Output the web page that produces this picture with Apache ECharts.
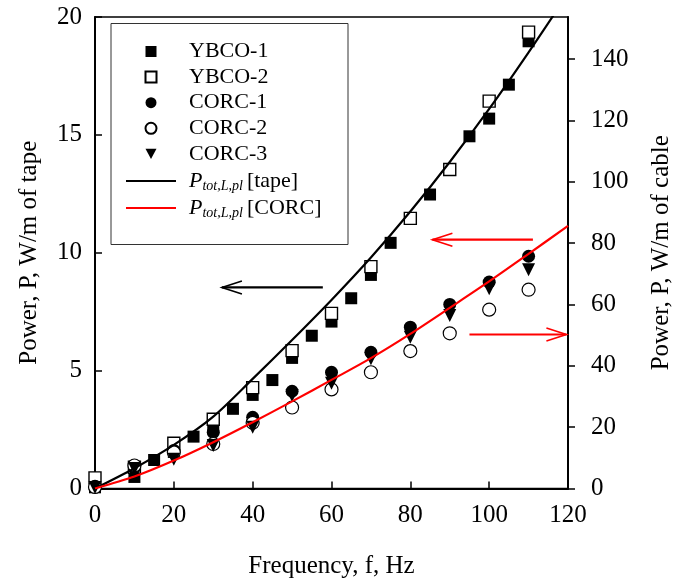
<!DOCTYPE html>
<html>
<head>
<meta charset="utf-8">
<script src="https://cdn.jsdelivr.net/npm/echarts@6/dist/echarts.min.js"></script>
<style>
	html, body { margin: 0; padding: 0; background: #fff; }
	#chart { width: 682px; height: 579px; }
</style>
</head>
<body>
<div id="chart"></div>
<script>
// 数据
var freqYbco1 = [0, 10, 15, 20, 25, 30, 35, 40, 45, 50, 55, 60, 65, 70, 75, 85, 95, 100, 105, 110];
var ybco1 = [0.05, 0.49, 1.21, 1.55, 2.2, 2.56, 3.38, 3.97, 4.6, 5.54, 6.48, 7.08, 8.07, 9.06, 10.42, 12.47, 14.94, 15.69, 17.13, 18.97];
var freq = [0, 10, 20, 30, 40, 50, 60, 70, 80, 90, 100, 110];
var ybco2 = [0.45, 0.9, 1.92, 2.94, 4.28, 5.85, 7.43, 9.41, 11.46, 13.53, 16.43, 19.36];
var corc1 = [0.4, 6.7, 12.4, 18.3, 23.2, 31.7, 37.9, 44.4, 52.6, 60.0, 67.3, 75.7];
var corc2 = [0.5, 7.5, 11.8, 14.5, 21.4, 26.4, 32.3, 37.9, 44.8, 50.6, 58.3, 64.8];
var corc3 = [0.3, 6.5, 9.5, 14.0, 20.0, 30.3, 34.3, 42.3, 49.3, 56.4, 65.1, 71.3];
var freqCurve = [0, 10, 20, 30, 40, 50, 60, 70, 80, 90, 100, 110, 120];
var tapeCurve = [0, 0.86, 1.85, 3.05, 4.65, 6.3, 8.0, 9.8, 11.75, 13.85, 16.1, 18.5, 21.0];
var corcCurve = [0, 3.9, 9.1, 15.1, 21.6, 28.4, 35.4, 42.5, 50.4, 58.9, 67.5, 76.5, 85.6];
var leftTicks = [0, 5, 10, 15, 20];
var rightTicks = [0, 20, 40, 60, 80, 100, 120, 140];
// 箭头（注释，数据坐标：起点、终点、所属series）
var arrows = [
	{from: [57.8, 8.53], to: [32.2, 8.53], series: 5, color: '#000'},
	{from: [111.1, 81.1], to: [85.6, 81.1], series: 6, color: '#ff0000'},
	{from: [95.0, 50.2], to: [119.6, 50.2], series: 6, color: '#ff0000'}
];

function zip(xs, ys) {
	var out = [];
	for(var i = 0; i < xs.length; i++) out.push([xs[i], ys[i]]);
	return out;
}

var font = 'Liberation Serif';
var legendText = {
	fontFamily: font, fontSize: 22, color: '#000', lineHeight: 25,
	rich: {
		i: {fontFamily: font, fontSize: 22, fontStyle: 'italic', color: '#000', lineHeight: 25},
		s: {fontFamily: font, fontSize: 14, fontStyle: 'italic', color: '#000', lineHeight: 12, verticalAlign: 'bottom', padding: [0, 4, 0, 0]},
		n: {fontFamily: font, fontSize: 22, color: '#000', lineHeight: 25}
	}
};
var chart = echarts.init(document.getElementById('chart'));
var option = {
	animation: false,
	textStyle: {fontFamily: font, color: '#000'},
	grid: {left: 95, right: 114, top: 17, bottom: 90.5, show: true, borderColor: '#000', borderWidth: 1.5, outerBoundsMode: 'none', containLabel: false},
	legend: [{
		orient: 'vertical',
		left: 144.5,
		top: 39,
		padding: 0,
		itemWidth: 11,
		itemHeight: 11,
		itemGap: 0.6,
		textStyle: echarts.util.merge({padding: [0, 0, 0, 27.5]}, legendText),
		data: [
			{name: 'YBCO-1', icon: 'rect'},
			{name: 'YBCO-2', icon: 'rect'},
			{name: 'CORC-1', icon: 'circle'},
			{name: 'CORC-2', icon: 'circle'},
			{name: 'CORC-3', icon: 'path://M0,0L12,0L6,11Z'}
		]
	}, {
		orient: 'vertical',
		left: 125,
		top: 168.5,
		padding: 0,
		itemWidth: 50,
		itemHeight: 11,
		itemGap: 2,
		textStyle: echarts.util.merge({padding: [0, 0, 0, 8]}, legendText),
		formatter: function(name) {
			if(name == 'tape') return '{i|P}{s|tot,L,pl}{n|[tape]}';
			return '{i|P}{s|tot,L,pl}{n|[CORC]}';
		},
		data: [
			{name: 'tape', itemStyle: {opacity: 0}},
			{name: 'CORC', itemStyle: {opacity: 0}}
		]
	}],
	xAxis: {
		type: 'value', min: 0, max: 120, interval: 20,
		name: 'Frequency, f, Hz', nameLocation: 'middle', nameGap: 65,
		nameTextStyle: {fontFamily: font, fontSize: 25, color: '#000'},
		axisLine: {lineStyle: {color: '#000', width: 2}},
		axisTick: {inside: true, length: 7, lineStyle: {color: '#000', width: 1.5}},
		axisLabel: {fontFamily: font, fontSize: 25, color: '#000', margin: 14},
		splitLine: {show: false}
	},
	yAxis: [{
		type: 'value', min: 0, max: 20, interval: 5,
		name: 'Power, P, W/m of tape', nameLocation: 'middle', nameGap: 53,
		nameTextStyle: {fontFamily: font, fontSize: 25, color: '#000'},
		axisLine: {show: true, lineStyle: {color: '#000', width: 2}},
		axisTick: {inside: true, length: 7, lineStyle: {color: '#000', width: 1.5}},
		axisLabel: {fontFamily: font, fontSize: 25, color: '#000', margin: 13, customValues: leftTicks},
		splitLine: {show: false}
	}, {
		type: 'value', min: 0, max: 153.7, interval: 20, position: 'right',
		name: 'Power, P, W/m of cable', nameLocation: 'middle', nameGap: 81, nameRotate: 90,
		nameTextStyle: {fontFamily: font, fontSize: 25, color: '#000'},
		axisLine: {show: true, lineStyle: {color: '#000', width: 2}},
		axisTick: {inside: false, length: 7, lineStyle: {color: '#000', width: 1.5}, customValues: rightTicks},
		axisLabel: {fontFamily: font, fontSize: 25, color: '#000', margin: 23, customValues: rightTicks},
		splitLine: {show: false}
	}],
	series: [{
		name: 'YBCO-1', type: 'scatter', symbol: 'rect', symbolSize: 12,
		itemStyle: {color: '#000', opacity: 1},
		data: zip(freqYbco1, ybco1)
	}, {
		name: 'YBCO-2', type: 'scatter', symbol: 'rect', symbolSize: 12,
		itemStyle: {color: '#fff', borderColor: '#000', borderWidth: 1.4, opacity: 1},
		data: zip(freq, ybco2)
	}, {
		name: 'CORC-1', type: 'scatter', symbol: 'circle', symbolSize: 13, yAxisIndex: 1,
		itemStyle: {color: '#000', opacity: 1},
		data: zip(freq, corc1)
	}, {
		name: 'CORC-2', type: 'scatter', symbol: 'circle', symbolSize: 13, yAxisIndex: 1,
		itemStyle: {color: '#fff', borderColor: '#000', borderWidth: 1.2, opacity: 1},
		data: zip(freq, corc2)
	}, {
		name: 'CORC-3', type: 'scatter', symbol: 'triangle', symbolRotate: 180, symbolSize: 13, yAxisIndex: 1,
		itemStyle: {color: '#000', opacity: 1},
		data: zip(freq, corc3)
	}, {
		name: 'tape', type: 'line', smooth: 0.3, symbol: 'none', z: 5,
		lineStyle: {color: '#000', width: 2.2},
		itemStyle: {color: '#000'},
		data: zip(freqCurve, tapeCurve)
	}, {
		name: 'CORC', type: 'line', smooth: 0.3, symbol: 'none', yAxisIndex: 1, z: 5,
		lineStyle: {color: '#ff0000', width: 2.2},
		itemStyle: {color: '#ff0000'},
		data: zip(freqCurve, corcCurve)
	}]
};
chart.setOption(option);

// 图例边框和箭头
var graphics = [{
	type: 'rect', shape: {x: 111, y: 23.5, width: 237, height: 221},
	style: {fill: 'none', stroke: '#333', lineWidth: 1}, z: 1
}];
for(var i = 0; i < arrows.length; i++) {
	var a = arrows[i];
	var p0 = chart.convertToPixel({seriesIndex: a.series}, a.from);
	var p1 = chart.convertToPixel({seriesIndex: a.series}, a.to);
	var dir = p1[0] > p0[0] ? 1 : -1;
	graphics.push({
		type: 'line', shape: {x1: p0[0], y1: p0[1], x2: p1[0], y2: p1[1]},
		style: {stroke: a.color, lineWidth: 2.2}, z: 10
	});
	graphics.push({
		type: 'polyline',
		shape: {points: [[p1[0] - dir * 20, p1[1] - 6.5], [p1[0], p1[1]], [p1[0] - dir * 20, p1[1] + 6.5]]},
		style: {stroke: a.color, lineWidth: 1.6, fill: 'none'}, z: 10
	});
}
chart.setOption({graphic: graphics});
</script>
</body>
</html>
